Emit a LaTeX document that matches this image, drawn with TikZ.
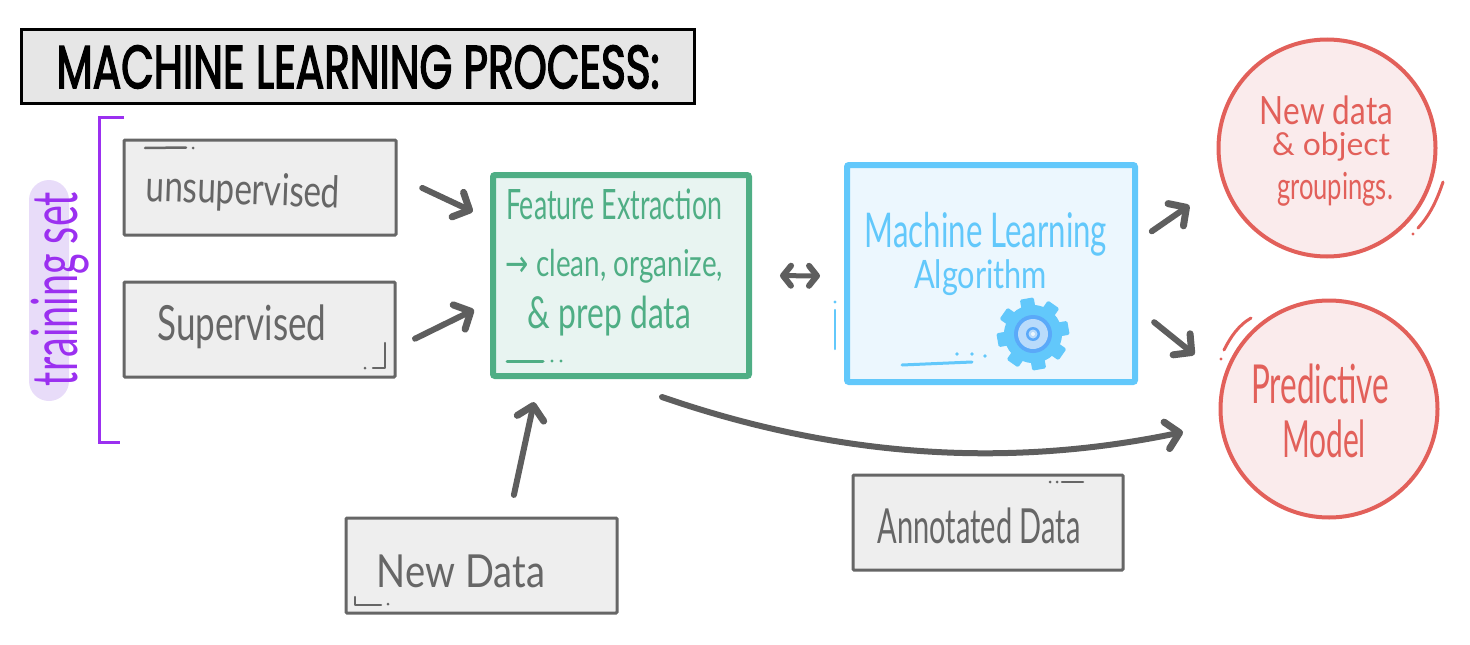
\documentclass[tikz,border=0pt]{standalone}
\usepackage{fontspec}
\usepackage{graphicx}
\setmainfont{Lato}
\newfontfamily\titlefont[FakeBold=3]{Poppins}
\newfontfamily\arrowfont{DejaVu Sans}
\usetikzlibrary{arrows.meta}
\definecolor{boxgray}{HTML}{666666}
\definecolor{boxfill}{HTML}{EEEEEE}
\definecolor{titlefill}{HTML}{E6E6E6}
\definecolor{arrowgray}{HTML}{5E5E5E}
\definecolor{greenline}{HTML}{4FAE85}
\definecolor{greenfill}{HTML}{E8F4F1}
\definecolor{blueline}{HTML}{62C8FB}
\definecolor{bluefill}{HTML}{ECF7FE}
\definecolor{redline}{HTML}{E2605A}
\definecolor{redfill}{HTML}{FAEBEC}
\definecolor{purpleline}{HTML}{9B30F0}
\definecolor{purplefill}{HTML}{E8DCF9}
\definecolor{gearblue}{HTML}{5AA9F9}
\definecolor{gearpale}{HTML}{B9DBFB}
\newcommand{\hand}[3]{\resizebox*{#1pt}{#2pt}{#3}}
\tikzset{
  x=1pt,y=-1pt,
  graybox/.style={draw=boxgray,fill=boxfill,line width=3pt,rounded corners=1pt,inner sep=0pt,outer sep=0pt},
  greenbox/.style={draw=greenline,fill=greenfill,line width=6pt,rounded corners=2pt,inner sep=0pt,outer sep=0pt},
  bluebox/.style={draw=blueline,fill=bluefill,line width=6pt,rounded corners=2pt,inner sep=0pt,outer sep=0pt},
  titlebox/.style={draw=black,fill=titlefill,line width=3pt,inner sep=0pt,outer sep=0pt},
  redcircle/.style={circle,draw=redline,fill=redfill,line width=4pt,minimum size=217pt,inner sep=0pt,outer sep=0pt},
  txt/.style={inner sep=0pt,outer sep=0pt},
  arr/.style={draw=arrowgray,line width=6pt,line cap=round,-{Straight Barb[length=13pt,width=27pt,line width=7pt,round]}},
  arrboth/.style={draw=arrowgray,line width=5pt,line cap=round,{Straight Barb[length=8pt,width=20pt,line width=6pt,round]}-{Straight Barb[length=8pt,width=20pt,line width=6pt,round]}},
  scribble/.style={line width=2.5pt,line cap=round,line join=round}
}
\begin{document}
\begin{tikzpicture}
\useasboundingbox (0,0) rectangle (1470,645);
% title
\node[titlebox,minimum width=673pt,minimum height=74pt] (title) at (357.5,66) {};
\node[txt] (titletext) at (358,67) {\hand{603}{43}{\titlefont MACHINE LEARNING PROCESS:}};
% training set
\fill[purplefill,rounded corners=20pt] (29,180) rectangle (69,401);
\node[txt,rotate=90] (trainingtext) at (60,289) {\hand{194}{58}{\color{purpleline}training set}};
\draw[purpleline,line width=3pt] (124,117) -- (99,117) -- (99,442) -- (120,442);
% input boxes
\node[graybox,minimum width=272pt,minimum height=95pt] (unsup) at (260,187.5) {};
\node[txt,rotate=-2] (unsuptext) at (243,192) {\hand{194}{40}{\color{boxgray}unsupervised}};
\node[graybox,minimum width=271pt,minimum height=95pt] (sup) at (259.5,329.5) {};
\node[txt] (suptext) at (242,327) {\hand{169}{44}{\color{boxgray}Supervised}};
\node[graybox,minimum width=271pt,minimum height=95pt] (newdata) at (481.5,565.5) {};
\node[txt] (newdatatext) at (461,571) {\hand{168}{33}{\color{boxgray}New Data}};
\node[graybox,minimum width=270pt,minimum height=95pt] (annot) at (988,522.5) {};
\node[txt] (annottext) at (979,526) {\hand{203}{36}{\color{boxgray}Annotated Data}};
% feature box
\node[greenbox,minimum width=256pt,minimum height=201pt] (feature) at (621,275.5) {};
\node[txt] (ft1) at (614,204) {\hand{216}{31}{\color{greenline}Feature Extraction}};
\node[txt] (ft2) at (614.5,266) {\hand{217}{34}{\color{greenline}{\arrowfont→} clean, organize,}};
\node[txt] (ft3) at (609.5,316) {\hand{163}{40}{\color{greenline}\& prep data}};
% ML box
\node[bluebox,minimum width=288pt,minimum height=217pt] (ml) at (991,273.5) {};
\node[txt] (ml1) at (986,234) {\hand{242}{44}{\color{blueline}Machine Learning}};
\node[txt] (ml2) at (980.5,278) {\hand{133}{36}{\color{blueline}Algorithm}};
% gear
\begin{scope}[shift={(1033,334)}]
  \foreach \a in {0,45,...,315}{
    \fill[blueline,rotate=\a+10,rounded corners=1.5pt] (-7,-36) rectangle (7,-20);
  }
  \fill[blueline] (0,0) circle[radius=29pt];
  \fill[gearblue] (0,0) circle[radius=19pt];
  \fill[gearpale] (0,0) circle[radius=15pt];
  \fill[gearblue] (0,0) circle[radius=7pt];
  \fill[gearpale] (0,0) circle[radius=4.5pt];
  \fill[bluefill] (0,0) circle[radius=2pt];
\end{scope}
% circles
\node[redcircle] (newobj) at (1327,148) {};
\node[txt] (no1) at (1326.5,110) {\hand{133}{29}{\color{redline}New data}};
\node[txt] (no2) at (1331,147) {\hand{118}{29}{\color{redline}\& object}};
\node[txt] (no3) at (1335,189) {\hand{116}{34}{\color{redline}groupings.}};
\node[redcircle] (pred) at (1329,409) {};
\node[txt] (pr1) at (1320,383.5) {\hand{138}{40}{\color{redline}Predictive}};
\node[txt] (pr2) at (1324,439) {\hand{84}{38}{\color{redline}Model}};
% decorative marks
\draw[boxgray,scribble] (145,148) -- (186,147.5);
\fill[boxgray] (193,148) circle[radius=1.5pt];
\draw[boxgray,scribble] (385,343) -- (385,368) -- (373,368);
\fill[boxgray] (365,368) circle[radius=1.5pt];
\draw[boxgray,scribble] (355,597) -- (355,605) -- (381,605);
\fill[boxgray] (388,604) circle[radius=1.5pt];
\draw[boxgray,scribble] (1062,482) -- (1083,482);
\fill[boxgray] (1050,482) circle[radius=1.5pt];
\fill[boxgray] (1057,482) circle[radius=1.5pt];
\draw[greenline,scribble,line width=3pt] (507,361) -- (543,361);
\fill[greenline] (552,361) circle[radius=1.7pt];
\fill[greenline] (561,361) circle[radius=1.7pt];
\draw[blueline,scribble,line width=3pt] (902,365) -- (972,362);
\fill[blueline] (957,354) circle[radius=1.8pt];
\fill[blueline] (972,354) circle[radius=1.8pt];
\fill[blueline] (985,356) circle[radius=1.8pt];
\draw[blueline,scribble] (835,310) -- (835,349);
\fill[blueline] (835,302) circle[radius=1.6pt];
\draw[redline,scribble,line width=3pt] (1443,182) .. controls (1437,200) and (1430,215) .. (1418,228);
\fill[redline] (1413,234) circle[radius=1.6pt];
\draw[redline,scribble,line width=3pt] (1251,318) .. controls (1239,325) and (1231,336) .. (1224,350);
\fill[redline] (1221,359) circle[radius=1.6pt];
% connectors
\draw[arr,shorten <=29pt,shorten >=22.4pt] (unsup.5.7) -- (feature.157.3);
\draw[arr,shorten <=22.3pt,shorten >=21.2pt] (sup.-8.1) -- (feature.191.1);
\draw[arr,shorten <=23.6pt,shorten >=26.7pt] (newdata.60.1) -- (feature.231.4);
\draw[arrboth,shorten <=31pt,shorten >=27pt] (feature.-0.67) -- (ml.181.4);
\draw[arr,shorten <=20.4pt,shorten >=41.9pt] (ml.12.3) -- (newobj.198.9);
\draw[arr,shorten <=24.6pt,shorten >=38.9pt] (ml.-13.2) -- (pred.164.9);
\coordinate (curvestart) at (662,397);
\coordinate (curveend) at (1183,432);
\draw[arr] (curvestart) .. controls (830,455) and (1000,470) .. (curveend);
\end{tikzpicture}
\end{document}
